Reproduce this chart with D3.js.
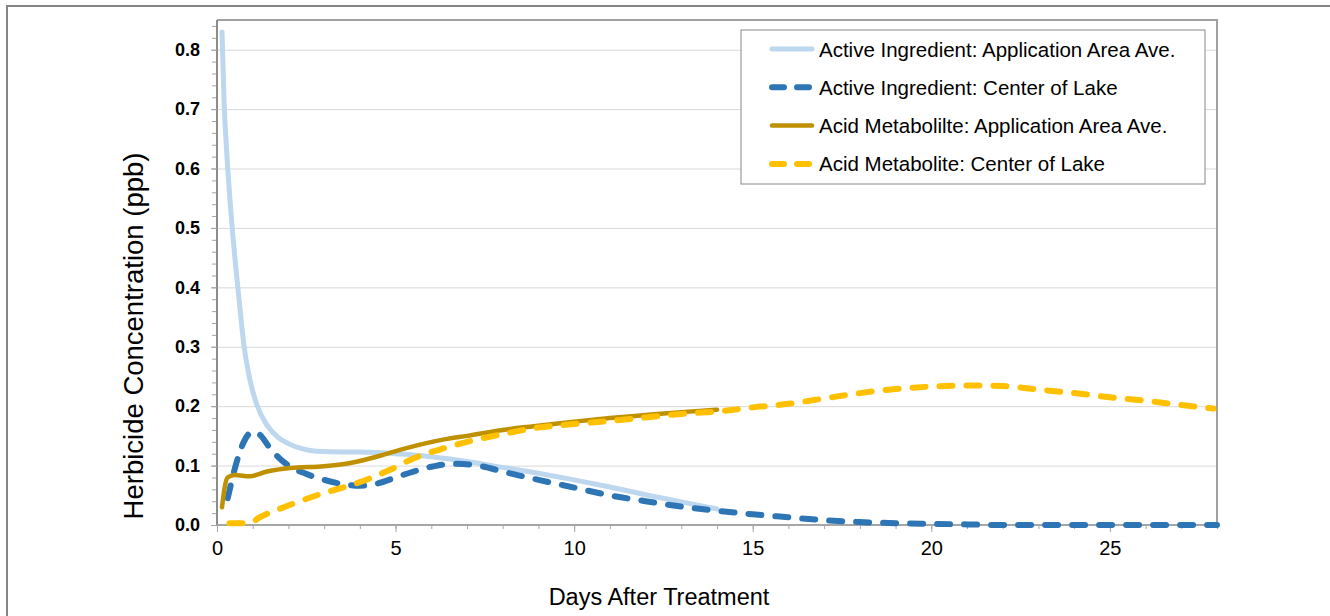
<!DOCTYPE html>
<html>
<head>
<meta charset="utf-8">
<script src="https://cdn.jsdelivr.net/npm/d3@7"></script>
<style>
  body { margin: 0; background: #fff; }
  svg { display: block; font-family: 'Liberation Sans', Arial, sans-serif; }
</style>
</head>
<body>
<div id="chart"></div>
<script>
// series names (legend order)
var seriesNames = [
  'Active Ingredient: Application Area Ave.',
  'Active Ingredient: Center of Lake',
  'Acid Metabolilte: Application Area Ave.',
  'Acid Metabolite: Center of Lake'
]

// Active Ingredient, application area average
var aiAreaDays = [0.14, 0.2, 0.27, 0.36, 0.47, 0.6, 0.76, 0.92, 1.1, 1.4, 1.7, 2, 2.4, 2.8, 3.5, 4, 4.5, 5, 5.5, 6, 7, 8, 9, 10, 11, 12, 13, 14]
var aiAreaPpb = [0.83, 0.71, 0.63, 0.55, 0.47, 0.39, 0.3, 0.245, 0.205, 0.168, 0.148, 0.137, 0.128, 0.124, 0.123, 0.123, 0.122, 0.12, 0.118, 0.115, 0.107, 0.097, 0.087, 0.076, 0.064, 0.051, 0.039, 0.027]

// Active Ingredient, center of lake
var aiLakeDays = [0.3, 0.5, 0.75, 1, 1.2, 1.5, 2, 2.5, 3, 3.5, 4, 4.5, 5, 5.5, 6, 6.6, 7.4, 8, 9, 10, 11, 12, 13, 14, 15, 16, 17, 18, 19, 20, 21, 22, 28]
var aiLakePpb = [0.045, 0.095, 0.14, 0.157, 0.152, 0.128, 0.1, 0.086, 0.076, 0.069, 0.066, 0.07, 0.08, 0.09, 0.098, 0.103, 0.099, 0.09, 0.076, 0.063, 0.05, 0.04, 0.031, 0.024, 0.018, 0.013, 0.008, 0.005, 0.003, 0.002, 0.001, 0, 0]

// Acid Metabolite, application area average
var amAreaDays = [0.14, 0.22, 0.3, 0.5, 0.92, 1.4, 2.05, 3, 3.7, 4.65, 5.1, 5.6, 6.44, 7, 8, 9, 10, 11, 12, 13, 14]
var amAreaPpb = [0.03, 0.065, 0.08, 0.084, 0.082, 0.09, 0.096, 0.099, 0.104, 0.118, 0.126, 0.134, 0.145, 0.15, 0.16, 0.167, 0.174, 0.18, 0.185, 0.19, 0.194]

// Acid Metabolite, center of lake
var amLakeDays = [0.35, 0.9, 1.2, 2.05, 3, 3.9, 4.85, 5.5, 6.4, 7, 8, 9, 10, 11, 12, 13, 14, 15, 16, 17, 18, 19, 20, 21, 22, 23, 24, 25, 26, 27, 27.9]
var amLakePpb = [0.003, 0.003, 0.013, 0.034, 0.054, 0.07, 0.093, 0.112, 0.13, 0.14, 0.153, 0.164, 0.17, 0.175, 0.181, 0.187, 0.191, 0.198, 0.204, 0.213, 0.222, 0.229, 0.233, 0.235, 0.234, 0.228, 0.222, 0.215, 0.209, 0.202, 0.196]

var yMajorTicks = [0, 0.1, 0.2, 0.3, 0.4, 0.5, 0.6, 0.7, 0.8]
var xMajorTicks = [0, 5, 10, 15, 20, 25]

var W = 1330
var H = 616
var plot = { left: 217, top: 20, right: 1217, bottom: 525 }

var svg = d3.select('#chart').append('svg')
  .attr('width', W)
  .attr('height', H)

// outer chart border (cut at the right and bottom like the picture)
svg.append('rect')
  .attr('x', 7).attr('y', 6)
  .attr('width', W + 10).attr('height', H + 10)
  .attr('fill', '#fff')
  .attr('stroke', '#858585')
  .attr('stroke-width', 2)

var x = d3.scaleLinear().domain([0, 28]).range([plot.left, plot.right])
var y = d3.scaleLinear().domain([0, 0.85]).range([plot.bottom, plot.top])

// gridlines
svg.append('g')
  .attr('transform', 'translate(' + plot.left + ',0)')
  .call(d3.axisLeft(y).tickValues(yMajorTicks.slice(1)).tickSize(-(plot.right - plot.left)).tickFormat(''))
  .call(function (g) { g.select('.domain').remove() })
  .selectAll('line').attr('stroke', '#d9d9d9').attr('stroke-width', 1)

// plot area frame (top and right)
svg.append('path')
  .attr('d', 'M' + plot.left + ',' + plot.top + 'H' + plot.right + 'V' + plot.bottom)
  .attr('fill', 'none')
  .attr('stroke', '#a0a0a0')
  .attr('stroke-width', 2)

// y minor ticks
var yMinor = d3.range(0, 0.851, 0.02)
svg.append('g')
  .attr('transform', 'translate(' + plot.left + ',0)')
  .call(d3.axisLeft(y).tickValues(yMinor).tickSize(5).tickFormat(''))
  .call(function (g) { g.select('.domain').remove() })
  .selectAll('line').attr('stroke', '#a6a6a6')

// y axis with labels
var yAxis = svg.append('g')
  .attr('transform', 'translate(' + plot.left + ',0)')
  .call(d3.axisLeft(y).tickValues(yMajorTicks).tickSize(6).tickPadding(11).tickFormat(d3.format('.1f')))
yAxis.select('.domain').attr('stroke', '#8c8c8c').attr('stroke-width', 2)
  .attr('d', 'M0,' + plot.bottom + 'V' + plot.top)
yAxis.selectAll('line').attr('stroke', '#a6a6a6')
yAxis.selectAll('text')
  .attr('font-size', 18)
  .attr('font-weight', 'bold')
  .attr('fill', '#000')
  .attr('font-family', "'Liberation Sans', Arial, sans-serif")

// x minor ticks
svg.append('g')
  .attr('transform', 'translate(0,' + plot.bottom + ')')
  .call(d3.axisBottom(x).tickValues(d3.range(0, 29, 1)).tickSize(4).tickFormat(''))
  .call(function (g) { g.select('.domain').remove() })
  .selectAll('line').attr('stroke', '#a6a6a6')

// x axis with labels
var xAxis = svg.append('g')
  .attr('transform', 'translate(0,' + plot.bottom + ')')
  .call(d3.axisBottom(x).tickValues(xMajorTicks).tickSize(7).tickPadding(9))
xAxis.select('.domain').attr('stroke', '#a6a6a6').attr('stroke-width', 2)
  .attr('d', 'M' + plot.left + ',0H' + plot.right)
xAxis.selectAll('line').attr('stroke', '#a6a6a6')
xAxis.selectAll('text')
  .attr('font-size', 20)
  .attr('fill', '#000')
  .attr('font-family', "'Liberation Sans', Arial, sans-serif")

// axis titles
svg.append('text')
  .attr('x', 659)
  .attr('y', 605)
  .attr('text-anchor', 'middle')
  .attr('font-size', 23.5)
  .text('Days After Treatment')

svg.append('text')
  .attr('transform', 'translate(143,336) rotate(-90)')
  .attr('text-anchor', 'middle')
  .attr('font-size', 27.5)
  .text('Herbicide Concentration (ppb)')

// series
var series = [
  { name: seriesNames[0], days: aiAreaDays, ppb: aiAreaPpb, color: '#bdd7ee', width: 5, dash: null },
  { name: seriesNames[1], days: aiLakeDays, ppb: aiLakePpb, color: '#2e75b6', width: 6, dash: '13,14' },
  { name: seriesNames[2], days: amAreaDays, ppb: amAreaPpb, color: '#bf9000', width: 4.5, dash: null },
  { name: seriesNames[3], days: amLakeDays, ppb: amLakePpb, color: '#ffc000', width: 6, dash: '13,14' }
]

var line = d3.line()
  .x(function (d) { return x(d[0]) })
  .y(function (d) { return y(d[1]) })
  .curve(d3.curveMonotoneX)

series.forEach(function (s) {
  var pts = s.days.map(function (d, i) { return [d, s.ppb[i]] })
  svg.append('path')
    .datum(pts)
    .attr('d', line)
    .attr('fill', 'none')
    .attr('stroke', s.color)
    .attr('stroke-width', s.width)
    .attr('stroke-linecap', 'round')
    .attr('stroke-linejoin', 'round')
    .attr('stroke-dasharray', s.dash)
})

// legend
var legend = svg.append('g')
legend.append('rect')
  .attr('x', 741).attr('y', 30)
  .attr('width', 464).attr('height', 154)
  .attr('fill', '#fff')
  .attr('stroke', '#888')
  .attr('stroke-width', 1)

series.forEach(function (s, i) {
  var ly = 49 + i * 38.3
  legend.append('line')
    .attr('x1', 772).attr('x2', 812)
    .attr('y1', ly).attr('y2', ly)
    .attr('stroke', s.color)
    .attr('stroke-width', s.width)
    .attr('stroke-linecap', 'round')
    .attr('stroke-dasharray', s.dash ? '12,13' : null)
  legend.append('text')
    .attr('x', 819)
    .attr('y', ly + 7.5)
    .attr('font-size', 20.5)
    .attr('fill', '#000')
    .text(s.name)
})
</script>
</body>
</html>
